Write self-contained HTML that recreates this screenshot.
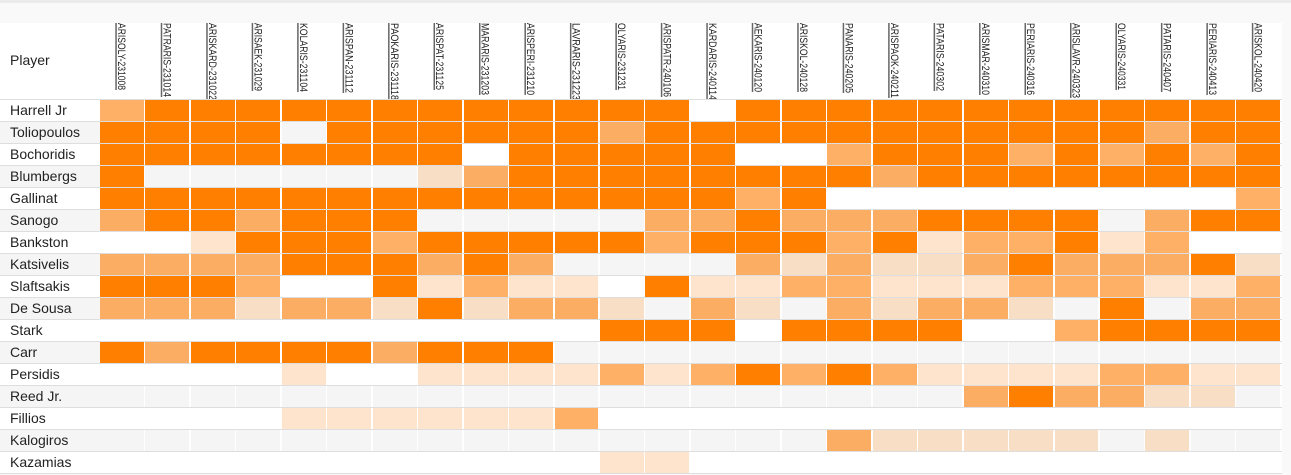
<!DOCTYPE html>
<html><head><meta charset="utf-8">
<style>
html,body{margin:0;padding:0}
body{width:1291px;height:475px;overflow:hidden;background:#f9f9f9;font-family:"Liberation Sans",Arial,sans-serif;position:relative}
.topb{position:absolute;left:0;top:0;width:1291px;height:3px;background:#ebebeb}
.hdr{position:absolute;left:0;top:23px;width:1282px;height:76px;background:#fff;overflow:hidden}
.hdr .pl{position:absolute;left:10px;top:28px;font-size:14px;line-height:18px;color:#222}
.hdr svg{position:absolute;left:0;top:0}
.tb{position:absolute;left:0;top:99px;width:1282px}
.r{display:grid;grid-template-columns:100px repeat(26,45.4615px);height:21px;border-top:1px solid #dedede;background:#fff}
.r .n{padding-left:10px;font-size:14px;line-height:21px;color:#222;white-space:nowrap}
.g .n{background:#f5f5f5}
.r i{display:block;height:21px;margin-right:1.5px}
.g i{background:#f5f5f5}
.r i.F{background:#ff8000}
.r i.M{background:#feb166}
.g i.M{background:#fbae63}
.r i.L{background:#fee4cc}
.g i.L{background:#f8dec5}
.end{border-top:1px solid #dedede;height:1px}
</style></head><body>
<div class="topb"></div>
<div class="hdr">
<div class="pl">Player</div>
<svg width="1282" height="76" xmlns="http://www.w3.org/2000/svg" font-family="Liberation Sans, Arial, sans-serif" font-size="11" fill="#222">
<g fill="#666">
<rect x="115.3" y="0" width="1.5" height="67"/>
<rect x="160.76" y="0" width="1.5" height="74"/>
<rect x="206.22" y="0" width="1.5" height="77"/>
<rect x="251.68" y="0" width="1.5" height="68"/>
<rect x="297.15" y="0" width="1.5" height="69"/>
<rect x="342.61" y="0" width="1.5" height="70"/>
<rect x="388.07" y="0" width="1.5" height="77"/>
<rect x="433.53" y="0" width="1.5" height="67"/>
<rect x="478.99" y="0" width="1.5" height="72"/>
<rect x="524.45" y="0" width="1.5" height="72"/>
<rect x="569.92" y="0" width="1.5" height="77"/>
<rect x="615.38" y="0" width="1.5" height="67"/>
<rect x="660.84" y="0" width="1.5" height="74"/>
<rect x="706.3" y="0" width="1.5" height="77"/>
<rect x="751.76" y="0" width="1.5" height="69"/>
<rect x="797.22" y="0" width="1.5" height="69"/>
<rect x="842.68" y="0" width="1.5" height="70"/>
<rect x="888.15" y="0" width="1.5" height="75"/>
<rect x="933.61" y="0" width="1.5" height="68"/>
<rect x="979.07" y="0" width="1.5" height="72"/>
<rect x="1024.53" y="0" width="1.5" height="72"/>
<rect x="1069.99" y="0" width="1.5" height="75"/>
<rect x="1115.45" y="0" width="1.5" height="67"/>
<rect x="1160.92" y="0" width="1.5" height="69"/>
<rect x="1206.38" y="0" width="1.5" height="72"/>
<rect x="1251.84" y="0" width="1.5" height="69"/>
</g>
<text transform="translate(118,0) rotate(90)" textLength="67" lengthAdjust="spacingAndGlyphs">ARISOLY-231008</text>
<text transform="translate(163.46,0) rotate(90)" textLength="74" lengthAdjust="spacingAndGlyphs">PATRARIS-231014</text>
<text transform="translate(208.92,0) rotate(90)" textLength="77" lengthAdjust="spacingAndGlyphs">ARISKARD-231022</text>
<text transform="translate(254.38,0) rotate(90)" textLength="68" lengthAdjust="spacingAndGlyphs">ARISAEK-231029</text>
<text transform="translate(299.85,0) rotate(90)" textLength="69" lengthAdjust="spacingAndGlyphs">KOLARIS-231104</text>
<text transform="translate(345.31,0) rotate(90)" textLength="70" lengthAdjust="spacingAndGlyphs">ARISPAN-231112</text>
<text transform="translate(390.77,0) rotate(90)" textLength="77" lengthAdjust="spacingAndGlyphs">PAOKARIS-231118</text>
<text transform="translate(436.23,0) rotate(90)" textLength="67" lengthAdjust="spacingAndGlyphs">ARISPAT-231125</text>
<text transform="translate(481.69,0) rotate(90)" textLength="72" lengthAdjust="spacingAndGlyphs">MARARIS-231203</text>
<text transform="translate(527.15,0) rotate(90)" textLength="72" lengthAdjust="spacingAndGlyphs">ARISPERI-231210</text>
<text transform="translate(572.62,0) rotate(90)" textLength="77" lengthAdjust="spacingAndGlyphs">LAVRARIS-231223</text>
<text transform="translate(618.08,0) rotate(90)" textLength="67" lengthAdjust="spacingAndGlyphs">OLYARIS-231231</text>
<text transform="translate(663.54,0) rotate(90)" textLength="74" lengthAdjust="spacingAndGlyphs">ARISPATR-240106</text>
<text transform="translate(709,0) rotate(90)" textLength="77" lengthAdjust="spacingAndGlyphs">KARDARIS-240114</text>
<text transform="translate(754.46,0) rotate(90)" textLength="69" lengthAdjust="spacingAndGlyphs">AEKARIS-240120</text>
<text transform="translate(799.92,0) rotate(90)" textLength="69" lengthAdjust="spacingAndGlyphs">ARISKOL-240128</text>
<text transform="translate(845.38,0) rotate(90)" textLength="70" lengthAdjust="spacingAndGlyphs">PANARIS-240205</text>
<text transform="translate(890.85,0) rotate(90)" textLength="75" lengthAdjust="spacingAndGlyphs">ARISPAOK-240211</text>
<text transform="translate(936.31,0) rotate(90)" textLength="68" lengthAdjust="spacingAndGlyphs">PATARIS-240302</text>
<text transform="translate(981.77,0) rotate(90)" textLength="72" lengthAdjust="spacingAndGlyphs">ARISMAR-240310</text>
<text transform="translate(1027.23,0) rotate(90)" textLength="72" lengthAdjust="spacingAndGlyphs">PERIARIS-240316</text>
<text transform="translate(1072.69,0) rotate(90)" textLength="75" lengthAdjust="spacingAndGlyphs">ARISLAVR-240323</text>
<text transform="translate(1118.15,0) rotate(90)" textLength="67" lengthAdjust="spacingAndGlyphs">OLYARIS-240331</text>
<text transform="translate(1163.62,0) rotate(90)" textLength="69" lengthAdjust="spacingAndGlyphs">PATARIS-240407</text>
<text transform="translate(1209.08,0) rotate(90)" textLength="72" lengthAdjust="spacingAndGlyphs">PERIARIS-240413</text>
<text transform="translate(1254.54,0) rotate(90)" textLength="69" lengthAdjust="spacingAndGlyphs">ARISKOL-240420</text>
</svg>
</div>
<div class="tb">
<div class="r"><div class="n">Harrell Jr</div><i class=M></i><i class=F></i><i class=F></i><i class=F></i><i class=F></i><i class=F></i><i class=F></i><i class=F></i><i class=F></i><i class=F></i><i class=F></i><i class=F></i><i class=F></i><i></i><i class=F></i><i class=F></i><i class=F></i><i class=F></i><i class=F></i><i class=F></i><i class=F></i><i class=F></i><i class=F></i><i class=F></i><i class=F></i><i class=F></i></div>
<div class="r g"><div class="n">Toliopoulos</div><i class=F></i><i class=F></i><i class=F></i><i class=F></i><i></i><i class=F></i><i class=F></i><i class=F></i><i class=F></i><i class=F></i><i class=F></i><i class=M></i><i class=F></i><i class=F></i><i class=F></i><i class=F></i><i class=F></i><i class=F></i><i class=F></i><i class=F></i><i class=F></i><i class=F></i><i class=F></i><i class=M></i><i class=F></i><i class=F></i></div>
<div class="r"><div class="n">Bochoridis</div><i class=F></i><i class=F></i><i class=F></i><i class=F></i><i class=F></i><i class=F></i><i class=F></i><i class=F></i><i></i><i class=F></i><i class=F></i><i class=F></i><i class=F></i><i class=F></i><i></i><i></i><i class=M></i><i class=F></i><i class=F></i><i class=F></i><i class=M></i><i class=F></i><i class=M></i><i class=F></i><i class=M></i><i class=F></i></div>
<div class="r g"><div class="n">Blumbergs</div><i class=F></i><i></i><i></i><i></i><i></i><i></i><i></i><i class=L></i><i class=M></i><i class=F></i><i class=F></i><i class=F></i><i class=F></i><i class=F></i><i class=F></i><i class=F></i><i class=F></i><i class=M></i><i class=F></i><i class=F></i><i class=F></i><i class=F></i><i class=F></i><i class=F></i><i class=F></i><i class=F></i></div>
<div class="r"><div class="n">Gallinat</div><i class=F></i><i class=F></i><i class=F></i><i class=F></i><i class=F></i><i class=F></i><i class=F></i><i class=F></i><i class=F></i><i class=F></i><i class=F></i><i class=F></i><i class=F></i><i class=F></i><i class=M></i><i class=F></i><i></i><i></i><i></i><i></i><i></i><i></i><i></i><i></i><i></i><i class=M></i></div>
<div class="r g"><div class="n">Sanogo</div><i class=M></i><i class=F></i><i class=F></i><i class=M></i><i class=F></i><i class=F></i><i class=F></i><i></i><i></i><i></i><i></i><i></i><i class=M></i><i class=M></i><i class=F></i><i class=M></i><i class=M></i><i class=M></i><i class=F></i><i class=F></i><i class=F></i><i class=F></i><i></i><i class=M></i><i class=F></i><i class=F></i></div>
<div class="r"><div class="n">Bankston</div><i></i><i></i><i class=L></i><i class=F></i><i class=F></i><i class=F></i><i class=M></i><i class=F></i><i class=F></i><i class=F></i><i class=F></i><i class=F></i><i class=M></i><i class=F></i><i class=F></i><i class=F></i><i class=M></i><i class=F></i><i class=L></i><i class=M></i><i class=M></i><i class=F></i><i class=L></i><i class=M></i><i></i><i></i></div>
<div class="r g"><div class="n">Katsivelis</div><i class=M></i><i class=M></i><i class=M></i><i class=M></i><i class=F></i><i class=F></i><i class=F></i><i class=M></i><i class=F></i><i class=M></i><i></i><i></i><i></i><i></i><i class=M></i><i class=L></i><i class=M></i><i class=L></i><i class=L></i><i class=M></i><i class=F></i><i class=M></i><i class=M></i><i class=M></i><i class=F></i><i class=L></i></div>
<div class="r"><div class="n">Slaftsakis</div><i class=F></i><i class=F></i><i class=F></i><i class=M></i><i></i><i></i><i class=F></i><i class=L></i><i class=M></i><i class=L></i><i class=L></i><i></i><i class=F></i><i class=L></i><i class=L></i><i class=M></i><i class=M></i><i class=L></i><i class=L></i><i class=L></i><i class=M></i><i class=M></i><i class=M></i><i class=L></i><i class=L></i><i class=M></i></div>
<div class="r g"><div class="n">De Sousa</div><i class=M></i><i class=M></i><i class=M></i><i class=L></i><i class=M></i><i class=M></i><i class=L></i><i class=F></i><i class=L></i><i class=M></i><i class=M></i><i class=L></i><i></i><i class=M></i><i class=L></i><i></i><i class=M></i><i class=L></i><i class=M></i><i class=M></i><i class=L></i><i></i><i class=F></i><i></i><i class=M></i><i class=M></i></div>
<div class="r"><div class="n">Stark</div><i></i><i></i><i></i><i></i><i></i><i></i><i></i><i></i><i></i><i></i><i></i><i class=F></i><i class=F></i><i class=F></i><i></i><i class=F></i><i class=F></i><i class=F></i><i class=F></i><i></i><i></i><i class=M></i><i class=F></i><i class=F></i><i class=F></i><i class=F></i></div>
<div class="r g"><div class="n">Carr</div><i class=F></i><i class=M></i><i class=F></i><i class=F></i><i class=F></i><i class=F></i><i class=M></i><i class=F></i><i class=F></i><i class=F></i><i></i><i></i><i></i><i></i><i></i><i></i><i></i><i></i><i></i><i></i><i></i><i></i><i></i><i></i><i></i><i></i></div>
<div class="r"><div class="n">Persidis</div><i></i><i></i><i></i><i></i><i class=L></i><i></i><i></i><i class=L></i><i class=L></i><i class=L></i><i class=L></i><i class=M></i><i class=L></i><i class=M></i><i class=F></i><i class=M></i><i class=F></i><i class=M></i><i class=L></i><i class=L></i><i class=L></i><i class=L></i><i class=M></i><i class=M></i><i class=L></i><i class=L></i></div>
<div class="r g"><div class="n">Reed Jr.</div><i></i><i></i><i></i><i></i><i></i><i></i><i></i><i></i><i></i><i></i><i></i><i></i><i></i><i></i><i></i><i></i><i></i><i></i><i></i><i class=M></i><i class=F></i><i class=M></i><i class=M></i><i class=L></i><i class=L></i><i></i></div>
<div class="r"><div class="n">Fillios</div><i></i><i></i><i></i><i></i><i class=L></i><i class=L></i><i class=L></i><i class=L></i><i class=L></i><i class=L></i><i class=M></i><i></i><i></i><i></i><i></i><i></i><i></i><i></i><i></i><i></i><i></i><i></i><i></i><i></i><i></i><i></i></div>
<div class="r g"><div class="n">Kalogiros</div><i></i><i></i><i></i><i></i><i></i><i></i><i></i><i></i><i></i><i></i><i></i><i></i><i></i><i></i><i></i><i></i><i class=M></i><i class=L></i><i class=L></i><i class=L></i><i class=L></i><i class=L></i><i></i><i class=L></i><i></i><i></i></div>
<div class="r"><div class="n">Kazamias</div><i></i><i></i><i></i><i></i><i></i><i></i><i></i><i></i><i></i><i></i><i></i><i class=L></i><i class=L></i><i></i><i></i><i></i><i></i><i></i><i></i><i></i><i></i><i></i><i></i><i></i><i></i><i></i></div>
<div class="end"></div>
</div>
</body></html>
